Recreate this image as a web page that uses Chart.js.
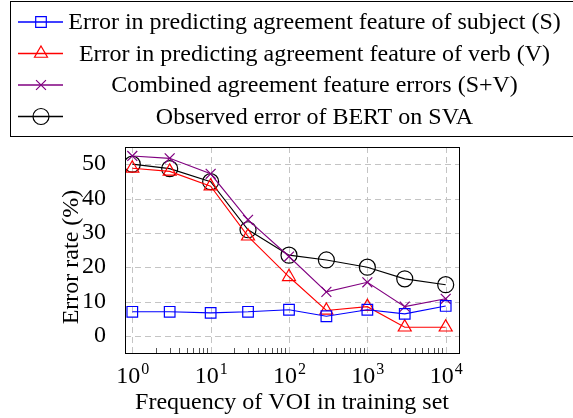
<!DOCTYPE html>
<html>
<head>
<meta charset="utf-8">
<script src="https://cdn.jsdelivr.net/npm/chart.js@4.4.1/dist/chart.umd.min.js"></script>
<style>
  body { margin: 0; background: #fff; }
  #wrap { width: 573px; height: 418px; position: relative; }
</style>
</head>
<body>
<div id="wrap"><canvas id="svaChart"></canvas></div>
<script>
// Data
const frequencies = [1, 3, 10, 30, 100, 300, 1000, 3000, 10000];
const subjectErr = [7.0, 7.0, 6.7, 7.0, 7.6, 5.7, 7.6, 6.4, 8.7];
const verbErr = [48.8, 47.9, 43.6, 29.0, 17.2, 7.4, 8.5, 2.5, 2.5];
const combinedErr = [52.4, 51.7, 47.2, 33.8, 23.1, 12.8, 15.6, 8.5, 10.8];
const bertErr = [50.0, 48.7, 44.9, 30.9, 23.5, 22.1, 20.0, 16.6, 14.9];
const seriesLabels = [
  'Error in predicting agreement feature of subject (S)',
  'Error in predicting agreement feature of verb (V)',
  'Combined agreement feature errors (S+V)',
  'Observed error of BERT on SVA'
];
const xDecades = [0, 1, 2, 3, 4];
const yTicks = [0, 10, 20, 30, 40, 50];

const SERIF = "'Liberation Serif', 'DejaVu Serif', serif";
const GRID = '#c4c4c4';

function toPoints(vals) {
  return frequencies.map((f, i) => ({ x: f, y: vals[i] }));
}

function makeSet(label, vals, color, style, radius) {
  return {
    label: label,
    data: toPoints(vals),
    borderColor: color,
    backgroundColor: 'transparent',
    borderWidth: 1.1,
    pointStyle: style,
    pointRadius: radius,
    pointBorderColor: color,
    pointBackgroundColor: 'transparent',
    pointBorderWidth: 1.2,
    tension: 0
  };
}

// dashed grid under the data
const gridPlugin = {
  id: 'dashedGrid',
  beforeDatasetsDraw(chart) {
    const ctx = chart.ctx;
    const a = chart.chartArea;
    const x = chart.scales.x;
    const y = chart.scales.y;
    ctx.save();
    ctx.strokeStyle = GRID;
    ctx.lineWidth = 1;
    ctx.setLineDash([6, 4]);
    xDecades.forEach(d => {
      const px = Math.round(x.getPixelForValue(Math.pow(10, d))) + 0.5;
      ctx.beginPath();
      ctx.moveTo(px, a.bottom);
      ctx.lineTo(px, a.top);
      ctx.stroke();
    });
    yTicks.forEach(v => {
      const py = Math.round(y.getPixelForValue(v)) + 0.5;
      ctx.beginPath();
      ctx.moveTo(a.left, py);
      ctx.lineTo(a.right, py);
      ctx.stroke();
    });
    ctx.restore();
  }
};

// frame, minor ticks, superscript tick labels, axis titles and the boxed legend
const paperPlugin = {
  id: 'paper',
  afterDraw(chart) {
    const ctx = chart.ctx;
    const a = chart.chartArea;
    const x = chart.scales.x;
    ctx.save();

    // minor ticks on the log axis
    ctx.strokeStyle = '#555';
    ctx.lineWidth = 1;
    xDecades.forEach(d => {
      for (let m = 2; m <= 9; m++) {
        const v = m * Math.pow(10, d);
        if (v > x.max) continue;
        const px = Math.round(x.getPixelForValue(v)) + 0.5;
        ctx.beginPath();
        ctx.moveTo(px, a.bottom);
        ctx.lineTo(px, a.bottom - 5);
        ctx.stroke();
      }
    });

    // plot frame
    ctx.strokeStyle = '#000';
    ctx.lineWidth = 1;
    ctx.strokeRect(a.left + 0.5, a.top + 0.5, a.right - a.left, a.bottom - a.top);

    // x tick labels 10^n
    ctx.fillStyle = '#000';
    ctx.textBaseline = 'alphabetic';
    ctx.textAlign = 'left';
    xDecades.forEach(d => {
      const px = x.getPixelForValue(Math.pow(10, d));
      ctx.font = '24px ' + SERIF;
      const wBase = ctx.measureText('10').width;
      ctx.font = '16px ' + SERIF;
      const wSup = ctx.measureText(String(d)).width;
      const start = px - (wBase + wSup) / 2;
      ctx.font = '24px ' + SERIF;
      ctx.fillText('10', start, 383);
      ctx.font = '16px ' + SERIF;
      ctx.fillText(String(d), start + wBase + 1, 374);
    });

    // axis titles
    ctx.font = '24px ' + SERIF;
    ctx.textAlign = 'center';
    ctx.fillText('Frequency of VOI in training set', (a.left + a.right) / 2, 409);
    ctx.save();
    ctx.translate(78, 257);
    ctx.rotate(-Math.PI / 2);
    ctx.textBaseline = 'alphabetic';
    ctx.fillText('Error rate (%)', 0, 0);
    ctx.restore();

    // legend box
    ctx.strokeStyle = '#000';
    ctx.lineWidth = 1;
    ctx.strokeRect(10.5, 1.5, 600, 135);
    const rowY = [22, 53.5, 85, 116.5];
    chart.data.datasets.forEach((ds, i) => {
      const yy = rowY[i];
      ctx.strokeStyle = ds.borderColor;
      ctx.lineWidth = 1.4;
      ctx.beginPath();
      ctx.moveTo(18, yy);
      ctx.lineTo(63, yy);
      ctx.stroke();
      ctx.lineWidth = 1.2;
      ctx.fillStyle = 'rgba(255,255,255,0)';
      Chart.helpers.drawPoint(ctx, {
        pointStyle: ds.pointStyle,
        radius: ds.pointRadius,
        rotation: 0,
        borderWidth: 1.2
      }, 41, yy);
      ctx.fillStyle = '#000';
      ctx.font = '24px ' + SERIF;
      ctx.textAlign = 'center';
      ctx.textBaseline = 'middle';
      ctx.fillText(ds.label, 314.5, yy + 1);
    });

    ctx.restore();
  }
};

const ctx = document.getElementById('svaChart').getContext('2d');
const svaChart = new Chart(ctx, {
  type: 'line',
  data: {
    datasets: [
      makeSet(seriesLabels[0], subjectErr, '#0000ff', 'rect', 7.5),
      makeSet(seriesLabels[1], verbErr, '#ff0000', 'triangle', 7.5),
      makeSet(seriesLabels[2], combinedErr, '#800080', 'crossRot', 7),
      makeSet(seriesLabels[3], bertErr, '#000000', 'circle', 8)
    ]
  },
  options: {
    responsive: true,
    maintainAspectRatio: false,
    animation: false,
    layout: {
      padding: { top: 147, right: 114, bottom: 0, left: 0 }
    },
    plugins: {
      legend: { display: false },
      tooltip: { enabled: false }
    },
    scales: {
      x: {
        type: 'logarithmic',
        min: 0.807,
        max: 14780,
        afterFit: function(scale) { scale.height = 65; },
        border: { display: false },
        grid: { display: false },
        ticks: { display: false }
      },
      y: {
        min: -5,
        max: 55,
        afterFit: function(scale) { scale.width = 125; },
        afterBuildTicks: function(scale) {
          scale.ticks = yTicks.map(v => ({ value: v }));
        },
        border: { display: false },
        grid: { display: false },
        ticks: {
          color: '#000',
          padding: 11,
          font: { family: SERIF, size: 24 }
        }
      }
    }
  },
  plugins: [gridPlugin, paperPlugin]
});
</script>
</body>
</html>
